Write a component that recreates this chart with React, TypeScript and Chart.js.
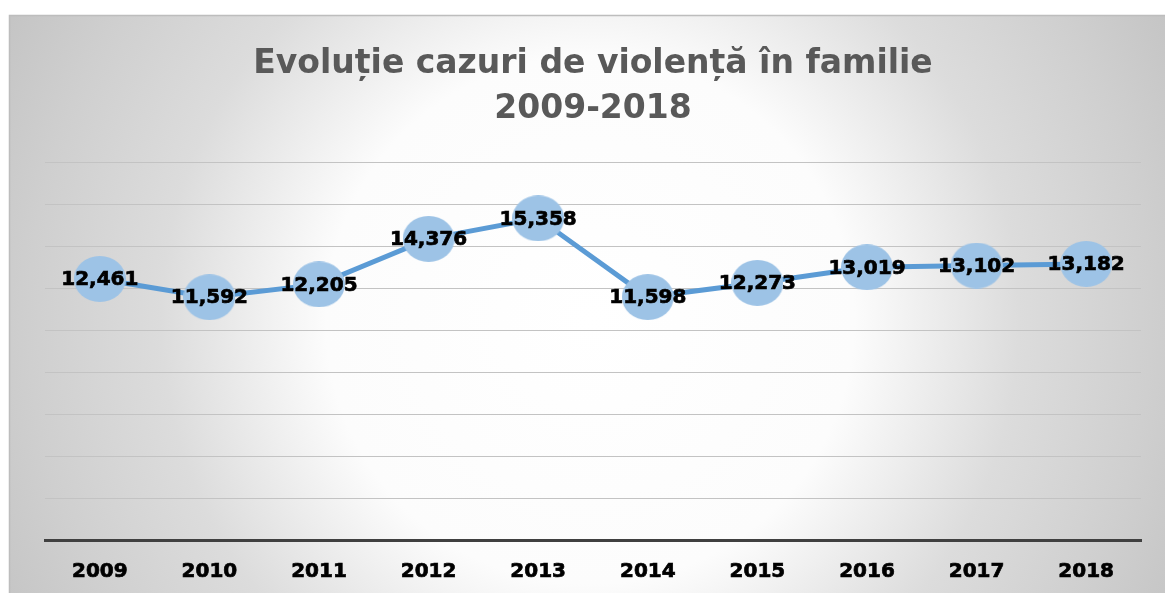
import React, { useEffect, useRef } from 'react';
import { Chart, registerables } from 'chart.js';

Chart.register(...registerables);

const years = ['2009', '2010', '2011', '2012', '2013', '2014', '2015', '2016', '2017', '2018'];
const cases = [12461, 11592, 12205, 14376, 15358, 11598, 12273, 13019, 13102, 13182];
const titleLines = ['Evoluție cazuri de violență în familie', '2009-2018'];
const yMin = 0;
const yMax = 18000;
const yStep = 2000;

const FONT = '"DejaVu Sans", sans-serif';

function makeEllipse(w: number, h: number, color: string): HTMLCanvasElement {
  const c = document.createElement('canvas');
  c.width = w;
  c.height = h;
  const ctx = c.getContext('2d')!;
  ctx.fillStyle = color;
  ctx.beginPath();
  ctx.ellipse(w / 2, h / 2, w / 2, h / 2, 0, 0, Math.PI * 2);
  ctx.fill();
  return c;
}

const backgroundPlugin = {
  id: 'panelBg',
  beforeDraw(chart: any) {
    const { ctx, width, height } = chart;
    ctx.save();
    ctx.fillStyle = '#ffffff';
    ctx.fillRect(0, 0, width, height);
    const x0 = 9, y0 = 15;
    const cx = 590, cy = 320;
    const g = ctx.createRadialGradient(cx, cy, 0, cx, cy, 660);
    g.addColorStop(0, '#ffffff');
    g.addColorStop(0.4, '#fcfcfc');
    g.addColorStop(0.65, '#dcdcdc');
    g.addColorStop(0.85, '#cfcfcf');
    g.addColorStop(1, '#c4c4c4');
    ctx.fillStyle = g;
    ctx.fillRect(x0, y0, width - x0, height - y0);
    ctx.strokeStyle = '#bdbdbd';
    ctx.lineWidth = 1.5;
    ctx.beginPath();
    ctx.moveTo(x0 + 0.5, height);
    ctx.lineTo(x0 + 0.5, y0 + 0.5);
    ctx.lineTo(width, y0 + 0.5);
    ctx.stroke();
    ctx.restore();
  },
};

const labelPlugin = {
  id: 'valueLabels',
  afterDatasetsDraw(chart: any) {
    const { ctx } = chart;
    const meta = chart.getDatasetMeta(0);
    const data = chart.data.datasets[0].data as number[];
    ctx.save();
    ctx.font = `bold 20px ${FONT}`;
    ctx.fillStyle = '#000000';
    ctx.strokeStyle = '#000000';
    ctx.lineWidth = 0.7;
    ctx.textAlign = 'center';
    ctx.textBaseline = 'middle';
    meta.data.forEach((pt: any, i: number) => {
      const t = data[i].toLocaleString('en-US');
      ctx.fillText(t, pt.x, pt.y + 1);
      ctx.strokeText(t, pt.x, pt.y + 1);
    });
    ctx.restore();
  },
};

export default function App() {
  const ref = useRef<HTMLCanvasElement>(null);

  useEffect(() => {
    if (!ref.current) return;
    const marker = makeEllipse(52, 46, '#9dc3e6');
    const chart = new Chart(ref.current, {
      type: 'line',
      data: {
        labels: years,
        datasets: [
          {
            data: cases,
            borderColor: '#5b9bd5',
            borderWidth: 5,
            pointStyle: marker as any,
            pointRadius: 24,
            pointHoverRadius: 24,
            tension: 0,
            fill: false,
          },
        ],
      },
      options: {
        responsive: false,
        animation: false,
        events: [],
        layout: { autoPadding: false, padding: { left: 45, right: 24, top: 10, bottom: -11 } },
        plugins: {
          legend: { display: false },
          tooltip: { enabled: false },
          title: {
            display: true,
            text: titleLines,
            color: '#595959',
            font: { family: FONT, size: 33, weight: 'bold', lineHeight: 1.38 },
            padding: { top: 31.5, bottom: 30.4 },
          },
        },
        scales: {
          x: {
            offset: true,
            grid: { display: false, drawTicks: false },
            border: { display: true, color: '#404040', width: 3 },
            ticks: {
              color: '#000000',
              textStrokeColor: '#000000',
              textStrokeWidth: 0.7,
              padding: 20,
              font: { family: FONT, size: 20, weight: 'bold' },
            },
          },
          y: {
            min: yMin,
            max: yMax,
            ticks: { display: false, stepSize: yStep },
            border: { display: false },
            grid: {
              drawTicks: false,
              color: (c: any) => (c.tick && c.tick.value === 0 ? 'rgba(0,0,0,0)' : '#c3c3c3'),
              lineWidth: 1,
            },
          },
        },
      },
      plugins: [backgroundPlugin, labelPlugin],
    });
    return () => chart.destroy();
  }, []);

  return (
    <div style={{ position: 'fixed', left: 0, top: 0, width: 1165, height: 593 }}>
      <canvas ref={ref} width={1165} height={593} style={{ display: 'block' }} />
    </div>
  );
}
